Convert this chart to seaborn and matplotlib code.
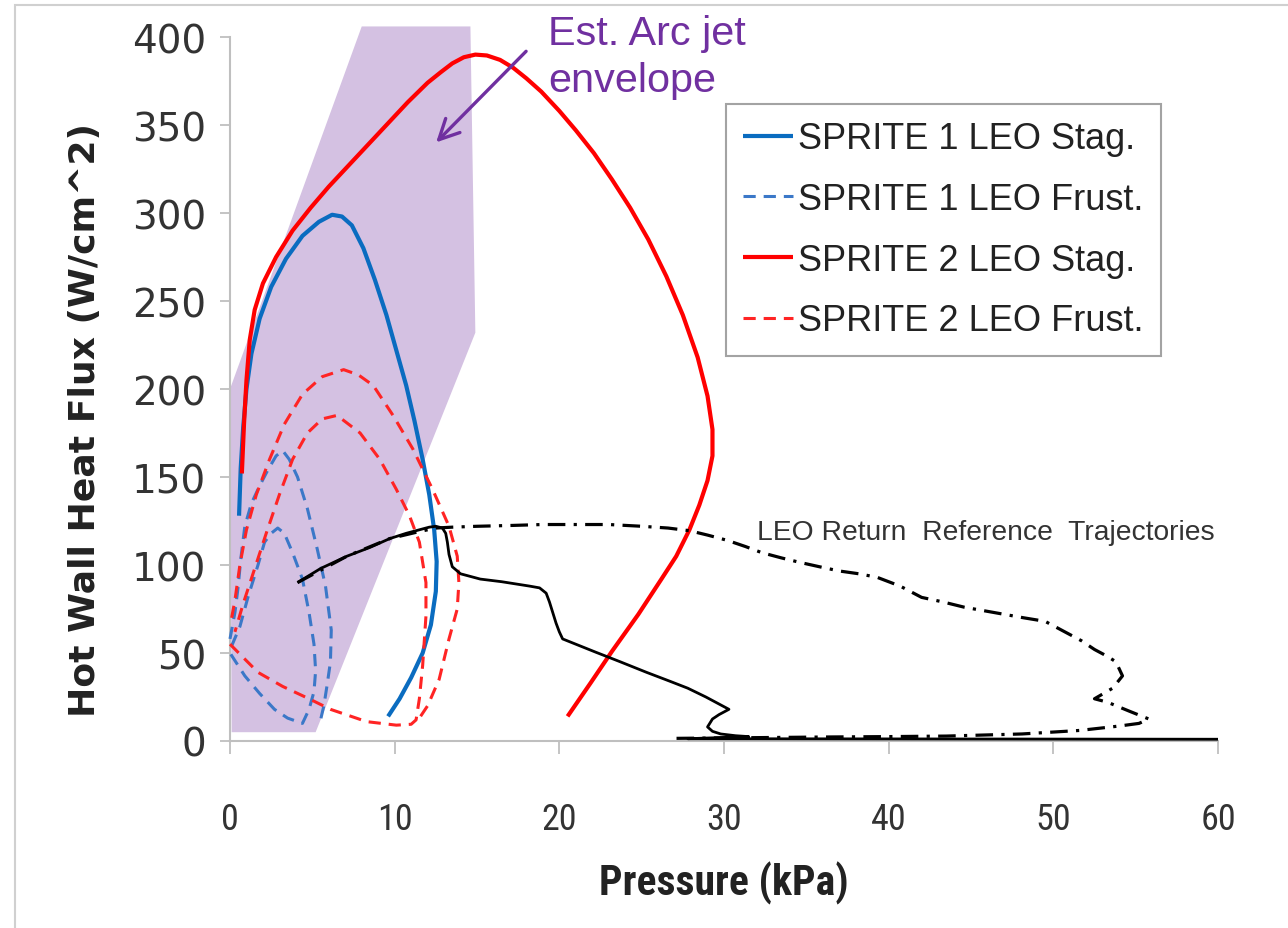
import numpy as np
import pandas as pd
import matplotlib
matplotlib.use("Agg")
import matplotlib.pyplot as plt
import seaborn as sns
from matplotlib import font_manager as fm
from matplotlib.patches import Rectangle

# ---------------- data ----------------
env_x = [0.0, 8.0, 14.6, 14.9, 5.2, 0.1]
env_y = [200, 406, 406, 232, 5, 5]

s1_stag_x = [0.55, 0.65, 0.8, 1.0, 1.3, 1.8, 2.5, 3.4, 4.4, 5.4, 6.2, 6.8, 7.4, 8.1, 8.8, 9.5,
             10.1, 10.7, 11.2, 11.7, 12.1, 12.4, 12.55, 12.5, 12.2, 11.7, 11.0, 10.3, 9.6]
s1_stag_y = [128, 155, 178, 200, 220, 240, 258, 274, 287, 295, 299, 298, 293, 280, 262, 242,
             222, 202, 182, 160, 140, 120, 102, 85, 66, 50, 36, 24, 14]

s1_frust_a_x = [0.0, 0.3, 0.5, 0.65, 0.9, 1.3, 1.8, 2.3, 2.8, 3.2, 3.6, 4.1, 4.7, 5.3, 5.8,
                6.15, 6.1, 5.9, 5.7, 5.5]
s1_frust_a_y = [58, 73, 88, 103, 122, 135, 145, 154, 162, 165, 160, 150, 132, 109, 88,
                63, 45, 32, 20, 12]
s1_frust_b_x = [0.1, 0.6, 1.1, 1.7, 2.1, 2.5, 2.9, 3.3, 3.8, 4.4, 4.8, 5.1, 5.2, 5.1, 4.8,
                4.4, 3.5, 2.7, 1.8, 0.9, 0.0]
s1_frust_b_y = [54, 65, 82, 100, 113, 118, 121, 118, 107, 92, 73, 55, 40, 28, 18,
                10, 13, 18, 27, 37, 50]

s2_stag_x = [0.72, 0.85, 1.0, 1.2, 1.5, 2.0, 2.8, 3.8, 4.9, 6.0, 7.2, 8.4, 9.6, 10.8, 12.0,
             12.8, 13.5, 14.2, 14.9, 15.6, 16.4, 17.2, 18.0, 18.9, 20.0, 21.0, 22.1, 23.2,
             24.3, 25.4, 26.5, 27.5, 28.4, 29.0, 29.3, 29.3, 29.0, 28.5, 27.9, 27.1, 26.2,
             24.8, 23.2, 21.9, 20.5]
s2_stag_y = [152, 180, 205, 228, 245, 260, 275, 290, 303, 315, 327, 339, 351, 363, 374,
             380, 385, 388.5, 390, 389.5, 387, 382.5, 376.5, 369, 358, 347, 334, 319,
             303, 285, 264, 242, 218, 196, 177, 162, 148, 134, 120, 105, 92,
             72, 51, 33, 14]

s2_frust_a_x = [0.1, 0.3, 0.6, 1.0, 1.6, 2.4, 3.3, 4.4, 5.6, 6.9, 7.8, 8.7, 9.9, 11.1, 12.3,
                13.3, 13.8, 13.9, 13.8, 13.3, 12.7, 12.0, 11.5]
s2_frust_a_y = [70, 80, 100, 120, 140, 160, 180, 197, 207, 211, 208, 202, 185, 166, 143,
                122, 105, 90, 75, 58, 35, 20, 13]
s2_frust_b_x = [0.0, 1.7, 3.2, 4.8, 6.1, 8.3, 10.1, 11.0, 11.3, 11.5, 11.7, 11.9, 11.9, 11.5,
                10.9, 10.1, 9.1, 7.9, 6.5, 5.6, 4.7, 3.8, 3.0, 2.2, 1.5, 0.8, 0.3]
s2_frust_b_y = [55, 39, 31, 24, 18, 11, 9, 9.5, 12, 24, 43, 71, 90, 113,
                128, 143, 160, 175, 185, 183, 175, 160, 140, 118, 98, 78, 62]

traj_solid_x = [4.1, 5.5, 7.1, 8.5, 9.7, 10.7, 11.5, 12.1, 12.5, 12.9, 13.1, 13.2, 13.3, 13.5,
                14.0, 14.6, 15.2, 16.5, 18.2, 18.8, 19.2, 19.4, 19.6, 19.8, 20.0, 20.2, 21.0,
                22.2, 23.7, 25.3, 26.7, 27.8, 28.9, 30.3, 29.7, 29.3, 29.0, 29.3, 29.8, 30.7,
                31.5, 27.8, 60.0]
traj_solid_y = [90, 98, 105, 110, 115, 118, 120, 121.5, 122, 121, 118, 113, 106, 99,
                95, 93.5, 92, 90.5, 88, 87, 84, 79, 73, 67, 62, 58, 55,
                50.5, 45, 39, 34, 30, 25, 18, 15, 12.5, 8, 5.5, 4, 3,
                2.5, 1.3, 1.0]

traj_dash_x = [4.1, 7.1, 9.7, 11.5, 12.5, 13.5, 15.0, 17.2, 19.0, 21.2, 23.0, 25.0, 26.6, 27.9,
               29.0, 30.2, 31.3, 32.3, 33.5, 34.6, 35.8, 37.0, 38.2, 39.3, 40.7, 42.0, 43.3,
               44.6, 45.8, 47.0, 48.2, 49.5, 50.7, 51.7, 52.5, 53.3, 53.8, 54.2, 53.6, 52.5,
               53.3, 54.6, 55.8, 55.2, 54.0, 51.6, 48.1, 43.5, 40.0, 36.5, 33.0, 29.5, 27.0]
traj_dash_y = [90, 105, 115, 119, 121, 121.5, 122, 122.5, 123, 123, 123, 122, 121, 119.5,
               117, 114, 110.5, 107, 104, 101.5, 99, 96.6, 95, 93, 88, 81.6, 79,
               76, 74, 72, 70, 68, 62, 57, 52, 48, 45, 37, 30, 24,
               22, 17, 12.5, 10, 8.5, 6, 4, 2.8, 2.5, 2.3, 2.0, 1.7, 1.5]

legend_labels = ["SPRITE 1 LEO Stag.", "SPRITE 1 LEO Frust.",
                 "SPRITE 2 LEO Stag.", "SPRITE 2 LEO Frust."]
x_ticks = [0, 10, 20, 30, 40, 50, 60]
y_ticks = [0, 50, 100, 150, 200, 250, 300, 350, 400]

# ---------------- style / fonts ----------------
sns.set_theme(style="white")
names = {f.name for f in fm.fontManager.ttflist}


def pick(cands, default="DejaVu Sans"):
    for c in cands:
        if c in names:
            return c
    return default


narrow_family, narrow_stretch = None, "normal"
for c in ["Roboto Condensed", "Liberation Sans Narrow", "Open Sans Condensed"]:
    if c in names:
        narrow_family = c
        break
if narrow_family is None:
    has_dv_cond = any(f.name == "DejaVu Sans" and str(f.stretch) in ("condensed", "semi-condensed")
                      for f in fm.fontManager.ttflist)
    narrow_family = "DejaVu Sans"
    narrow_stretch = "condensed" if has_dv_cond else "normal"

arial_like = pick(["Liberation Sans", "Arimo", "DejaVu Sans"])
plt.rcParams["font.family"] = [arial_like, "DejaVu Sans"]

BLUE = "#0A6CC0"
BLUE_D = "#3B78C8"
RED = "#FF0000"
RED_D = "#FF2424"
PURPLE = "#7030A0"
ENV = "#D4C1E2"
AX_GRAY = "#BFBFBF"

fig = plt.figure(figsize=(12.88, 9.29), dpi=100)
ax = fig.add_axes([230 / 1288, 1 - 742 / 929, 988 / 1288, 704 / 929])

# thin grey frame of the original picture
fig.patches.append(Rectangle((15 / 1288, -0.05), 1.2, 1.05 - 6 / 929, transform=fig.transFigure,
                             fill=False, edgecolor="#D0D0D0", lw=1.5, zorder=0))

# arc-jet envelope
ax.fill(env_x, env_y, color=ENV, lw=0, zorder=1, clip_on=False)


def draw(x, y, color, lw, dashes=None, z=3):
    df = pd.DataFrame({"x": x, "y": y})
    sns.lineplot(data=df, x="x", y="y", sort=False, estimator=None, ax=ax,
                 color=color, lw=lw, zorder=z, clip_on=False)
    ln = ax.lines[-1]
    if dashes is not None:
        ln.set_dashes(dashes)
    ln.set_solid_capstyle("butt")
    ln.set_dash_capstyle("butt")
    ln.set_solid_joinstyle("round")
    return ln


h1 = draw(s1_stag_x, s1_stag_y, BLUE, 3.0, z=3)
h2 = draw(s1_frust_a_x, s1_frust_a_y, BLUE_D, 2.2, dashes=(4, 2.6), z=4)
draw(s1_frust_b_x, s1_frust_b_y, BLUE_D, 2.2, dashes=(4, 2.6), z=4)
h3 = draw(s2_stag_x, s2_stag_y, RED, 3.0, z=5)
h4 = draw(s2_frust_a_x, s2_frust_a_y, RED_D, 2.2, dashes=(4, 2.6), z=6)
draw(s2_frust_b_x, s2_frust_b_y, RED_D, 2.2, dashes=(4, 2.6), z=6)
draw(traj_solid_x, traj_solid_y, "black", 2.0, z=7)
draw(traj_dash_x, traj_dash_y, "black", 2.3, dashes=(5.5, 2.6, 1, 2.6), z=7)

# axes
ax.set_xlim(0, 60)
ax.set_ylim(0, 400)
ax.set_xticks(x_ticks)
ax.set_yticks(y_ticks)
ax.set_xticklabels([str(v) for v in x_ticks])
ax.set_yticklabels([str(v) for v in y_ticks])
for s in ["top", "right"]:
    ax.spines[s].set_visible(False)
for s in ["left", "bottom"]:
    ax.spines[s].set_color(AX_GRAY)
    ax.spines[s].set_linewidth(1.5)
ax.grid(False)
ax.set_facecolor("none")
ax.tick_params(axis="y", direction="out", length=7, width=1.3, color=AX_GRAY, pad=10,
               labelsize=28, labelcolor="#333333", left=True)
ax.tick_params(axis="x", direction="out", length=9, width=1.3, color=AX_GRAY, pad=34,
               labelsize=26, labelcolor="#333333", bottom=True)
for t in ax.get_yticklabels():
    t.set_fontfamily("DejaVu Sans")
for t in ax.get_xticklabels():
    t.set_fontfamily(narrow_family)
    t.set_fontstretch(narrow_stretch)

ax.set_xlabel("Pressure (kPa)", fontsize=30, fontweight="bold", color="#222222",
              family=narrow_family, fontstretch=narrow_stretch)
ax.set_ylabel("Hot Wall Heat Flux (W/cm^2)", fontsize=26, fontweight="bold", color="#222222",
              family="DejaVu Sans")
ax.xaxis.set_label_coords((724 - 230) / 988, (742 - 862) / 704)
ax.yaxis.set_label_coords((102 - 230) / 988, (742 - 420) / 704)

# annotations
ax.text(32.0, 118.7, "LEO Return  Reference  Trajectories", fontsize=20.3, color="#333333",
        ha="left", va="center", family=arial_like)
ax.annotate("", xy=(12.4, 339), xytext=(18.1, 393),
            arrowprops=dict(arrowstyle="->", color=PURPLE, lw=2.4, mutation_scale=36),
            annotation_clip=False, zorder=9)
ax.text(19.3, 389, "Est. Arc jet\nenvelope", fontsize=29.8, color=PURPLE, ha="left",
        va="center", linespacing=1.28, family=arial_like, clip_on=False)

leg = ax.legend([h1, h2, h3, h4], legend_labels, loc="upper right",
                bbox_to_anchor=((1161 - 230) / 988, (742 - 105) / 704), borderaxespad=0,
                prop={"family": arial_like, "size": 26}, frameon=True, fancybox=False,
                handlelength=1.38, handletextpad=0.14, labelspacing=0.71, borderpad=0.48)
leg.get_frame().set_edgecolor("#8C8C8C")
leg.get_frame().set_linewidth(1.5)
for t in leg.get_texts():
    t.set_color("#222222")

fig.savefig("out.png", dpi=100)
